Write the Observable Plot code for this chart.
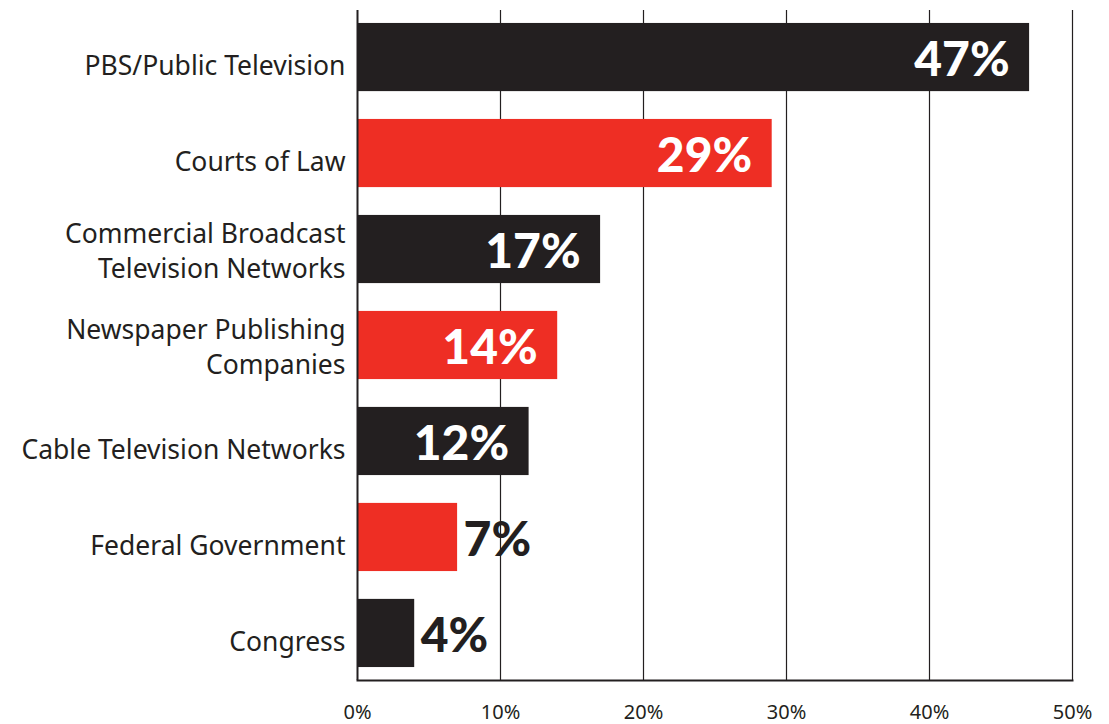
<!DOCTYPE html>
<html>
<head>
<meta charset="utf-8">
<script src="https://cdn.jsdelivr.net/npm/d3@7"></script>
<script src="https://cdn.jsdelivr.net/npm/@observablehq/plot@0.6"></script>
<style>
  html, body { margin: 0; padding: 0; background: #fff; }
  #chart svg { display: block; }
</style>
</head>
<body>
<div id="chart"></div>
<script>
const categories = [
  "PBS/Public Television",
  "Courts of Law",
  "Commercial Broadcast\nTelevision Networks",
  "Newspaper Publishing\nCompanies",
  "Cable Television Networks",
  "Federal Government",
  "Congress"
];
const values = [47, 29, 17, 14, 12, 7, 4];
const colors = ["#231f20", "#ee2e24", "#231f20", "#ee2e24", "#231f20", "#ee2e24", "#231f20"];
const xTicks = [0, 10, 20, 30, 40, 50];

const data = categories.map((c, i) => ({category: c, value: values[i], color: colors[i]}));
const inside = data.filter(d => d.value >= 10);
const outside = data.filter(d => d.value < 10);
const singleLine = categories.filter(c => !c.includes("\n"));
const multiLine = categories.filter(c => c.includes("\n"));

const dark = "#231f20";
const labelFont = "'Noto Sans', Lato, sans-serif";

const chart = Plot.plot({
  width: 1109,
  height: 724,
  marginLeft: 357,
  marginRight: 37,
  marginTop: 10,
  marginBottom: 44,
  style: {fontFamily: labelFont, color: dark, background: "#fff"},
  x: {domain: [0, 50]},
  y: {domain: categories, paddingInner: 0.29, paddingOuter: 0.135, round: false},
  marks: [
    Plot.ruleX(xTicks.slice(1), {stroke: dark, strokeWidth: 1.2}),
    Plot.barX(data, {y: "category", x: "value", fill: "color"}),
    Plot.text(inside, {y: "category", x: "value", text: d => d.value + "%", textAnchor: "end", dx: -20, dy: 3, fill: "#fff", fontSize: 48, fontWeight: 900, fontFamily: "Lato, sans-serif"}),
    Plot.text(outside, {y: "category", x: "value", text: d => d.value + "%", textAnchor: "start", dx: 6, dy: 3, fill: dark, fontSize: 48, fontWeight: 900, fontFamily: "Lato, sans-serif"}),
    Plot.ruleX([0], {stroke: dark, strokeWidth: 2}),
    Plot.frame({anchor: "bottom", stroke: dark, strokeWidth: 2}),
    Plot.axisY({ticks: singleLine, tickSize: 0, tickPadding: 12, fontSize: 26.5, dy: 9, label: null, fill: dark}),
    Plot.axisY({ticks: multiLine, tickSize: 0, tickPadding: 12, fontSize: 26.5, lineHeight: 1.3, label: null, fill: dark}),
    Plot.axisX({ticks: xTicks, tickSize: 0, tickPadding: 24, fontSize: 20, tickFormat: d => d + "%", label: null, fill: dark})
  ]
});
document.getElementById("chart").appendChild(chart);
</script>
</body>
</html>
